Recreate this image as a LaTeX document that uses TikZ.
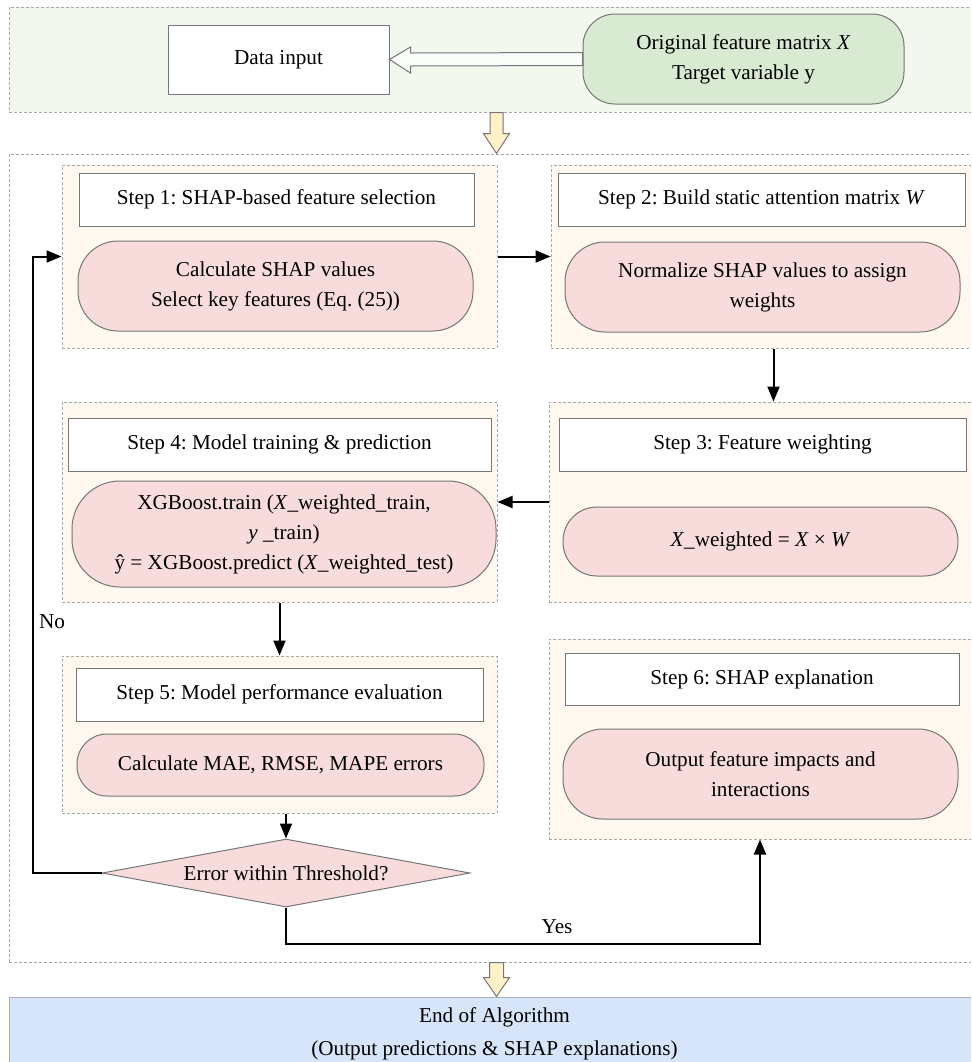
\documentclass[tikz,border=0pt]{standalone}
\usepackage{fontspec}
\setmainfont{Liberation Serif}
\usetikzlibrary{shapes.geometric,arrows.meta,shadows,calc}
\def\pxu{0.5pt}
\definecolor{panelgreen}{HTML}{F3F8EF}
\definecolor{boxgreen}{HTML}{D8EAD2}
\definecolor{cream}{HTML}{FEF8EE}
\definecolor{pinkbox}{HTML}{F8DCDC}
\definecolor{bluebox}{HTML}{D6E5F9}
\definecolor{paleyellow}{HTML}{FFF0C8}
\definecolor{dashgray}{HTML}{A8A8A8}
\definecolor{edgegray}{HTML}{767676}
\frenchspacing
\begin{document}
\begin{tikzpicture}[x=0.5pt,y=-0.5pt,
  font=\fontsize{10.6}{15}\selectfont,
  sz/.style 2 args={minimum width=#1*\pxu, minimum height=#2*\pxu},
  outerpanel/.style={draw=dashgray, dash pattern=on 1.5pt off 1pt, line width=0.5pt, inner sep=0pt},
  panel/.style={outerpanel, fill=cream},
  titlebox/.style={draw=edgegray, fill=white, line width=0.5pt, inner sep=0pt,
    drop shadow={shadow xshift=0.5pt, shadow yshift=-0.6pt, fill=black!55, opacity=1}},
  pillbox/.style={draw=edgegray, fill=pinkbox, rounded corners=20pt, line width=0.5pt, align=center, inner sep=0pt},
  decision/.style={diamond, draw=edgegray, fill=pinkbox, line width=0.5pt, inner sep=0pt, shape aspect=5.4},
  arr/.style={-{Triangle[length=7.5pt,width=6pt]}, line width=1pt, black},
  hollow/.style={draw=edgegray, line width=0.5pt, line join=miter},
  lbl/.style={inner sep=0pt}
]
\path[use as bounding box, clip] (0,0) rectangle (971,1062);

% top panel
\node[outerpanel, fill=panelgreen, sz={975}{105}] (toppanel) at (496.5,59.5) {};
\node[titlebox, sz={221}{69}] (datain) at (278.5,59.5) {Data input};
\node[pillbox, fill=boxgreen, rounded corners=16pt, sz={321}{90}] (orig) at (743.5,59) {Original feature matrix \textit{X}\\Target variable y};
\draw[hollow, fill=panelgreen!40!white]
  ($(orig.west)+(0,-6.5)$) -- ($(datain.east)+(21,-6.5)$) -- ($(datain.east)+(21,-12.5)$)
  -- (datain.east) -- ($(datain.east)+(21,13.5)$) -- ($(datain.east)+(21,6.5)$)
  -- ($(orig.west)+(0,6.5)$) -- cycle;

% main panel
\node[outerpanel, fill=white, sz={971}{808}] (mainpanel) at (494.5,558) {};

\draw[hollow, fill=paleyellow]
  ($(toppanel.south)+(-6.5,0)$) -- ($(toppanel.south)+(6.5,0)$) -- ($(toppanel.south)+(6.5,21)$)
  -- ($(toppanel.south)+(13,21)$) -- (toppanel.south |- mainpanel.north) -- ($(toppanel.south)+(-13,21)$)
  -- ($(toppanel.south)+(-6.5,21)$) -- cycle;

% step 1
\node[panel, sz={435}{183}] (s1panel) at (279.5,256.5) {};
\node[titlebox, sz={395}{53}] (s1title) at (276.5,199.5) {Step 1: SHAP-based feature selection};
\node[pillbox, sz={395}{90}] (s1body) at (275.5,286) {Calculate SHAP values\\Select key features (Eq. (25))};

% step 2
\node[panel, sz={429}{183}] (s2panel) at (765.5,256.5) {};
\node[titlebox, sz={407}{53}] (s2title) at (761.5,199.5) {Step 2: Build static attention matrix \textit{W}};
\node[pillbox, sz={395}{90}] (s2body) at (762.5,287) {Normalize SHAP values to assign\\weights};

% step 3
\node[panel, sz={431}{200}] (s3panel) at (764.5,502) {};
\node[titlebox, sz={407}{53}] (s3title) at (762.5,444.5) {Step 3: Feature weighting};
\node[pillbox, rounded corners=17pt, sz={395}{69}] (s3body) at (760.5,541.5) {\textit{X}\_weighted = \textit{X} × \textit{W}};

% step 4
\node[panel, sz={435}{200}] (s4panel) at (279.5,502) {};
\node[titlebox, sz={423}{53}] (s4title) at (279.5,444.5) {Step 4: Model training \& prediction};
\node[pillbox, rounded corners=24pt, sz={424}{106}] (s4body) at (284,534) {XGBoost.train (\textit{X}\_weighted\_train,\\\textit{y} \_train)\\ŷ = XGBoost.predict (\textit{X}\_weighted\_test)};

% step 5
\node[panel, sz={435}{157}] (s5panel) at (279.5,734.5) {};
\node[titlebox, sz={407}{53}] (s5title) at (279.5,694.5) {Step 5: Model performance evaluation};
\node[pillbox, rounded corners=15pt, sz={407}{62}] (s5body) at (280.5,765) {Calculate MAE, RMSE, MAPE errors};

% step 6
\node[panel, sz={431}{200}] (s6panel) at (764.5,739) {};
\node[titlebox, sz={394}{52}] (s6title) at (762,679) {Step 6: SHAP explanation};
\node[pillbox, sz={395}{90}] (s6body) at (760.5,774) {Output feature impacts and\\interactions};

% decision
\node[decision, sz={368}{68}] (dec) at (286,873) {Error within Threshold?};

% end box
\node[draw=edgegray!60, fill=bluebox, line width=0.5pt, sz={971}{73}, align=center,
  font=\fontsize{10.6}{16.5}\selectfont] (endbox) at (494.5,1033.5) {End of Algorithm\\(Output predictions \& SHAP explanations)};

\coordinate (bb) at (toppanel.south |- mainpanel.south);
\draw[hollow, fill=paleyellow]
  ($(bb)+(-7,0)$) -- ($(bb)+(7,0)$) -- ($(bb)+(7,15)$) -- ($(bb)+(13,15)$)
  -- (bb |- endbox.north) -- ($(bb)+(-13,15)$) -- ($(bb)+(-7,15)$) -- cycle;

% connectors
\draw[arr] (s1panel.east) -- (s2panel.west);
\draw[arr] ([xshift=4pt]s2panel.south) -- ([xshift=4pt]s2panel.south |- s3panel.north);
\draw[arr] (s3panel.west) -- (s4panel.east);
\draw[arr] (s4panel.south) -- (s5panel.north);
\draw[arr] (dec.north |- s5panel.south) -- (dec.north);
\draw[arr] (dec.west) -- ++(-69,0) |- (s1panel.west);
\draw[arr] (dec.south) -- ++(0,36) -| ([xshift=-2.25pt]s6panel.south);
\node[lbl] (nolbl) at (52,622) {No};
\node[lbl] (yeslbl) at (557,927) {Yes};
\end{tikzpicture}
\end{document}
